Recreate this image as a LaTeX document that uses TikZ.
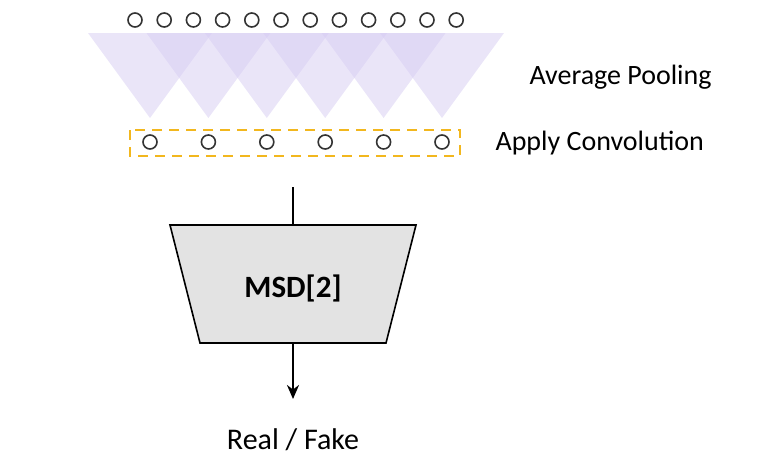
\documentclass[tikz,border=0pt]{standalone}
\usepackage{fontspec}
\setmainfont{Carlito}
\usetikzlibrary{positioning, arrows.meta}

\definecolor{poolviolet}{RGB}{214,204,242}
\definecolor{convgold}{RGB}{242,183,30}

\tikzset{
    pix/.style={circle, draw=black!80, line width=1.6pt, minimum size=14pt, inner sep=0pt},
    pool/.style={fill=poolviolet, fill opacity=0.5, draw=none},
    label/.style={font=\fontsize{28pt}{32pt}\selectfont, anchor=west},
    flow/.style={line width=2.8pt, -{Stealth[length=14pt, width=12pt]}}
}

\begin{document}
\begin{tikzpicture}[x=1pt, y=-1pt]
        \useasboundingbox (0,0) rectangle (770,463);

        % pooling windows
        \foreach \i in {0,...,5}
            \fill[pool] (88 + 58.4*\i, 33) -- (212 + 58.4*\i, 33) -- (150 + 58.4*\i, 118) -- cycle;

        % input samples
        \foreach \i in {0,...,11}
            \node[pix] (in\i) at (135 + 29.2*\i, 20) {};

        % pooled samples
        \foreach \i in {0,...,5}
            \node[pix] (out\i) at (150 + 58.4*\i, 142) {};

        \draw[dash pattern=on 10pt off 7pt, draw=convgold, line width=2.6pt] (130,130) rectangle (460,156);

        \node[label] (avg) at (526,77) {Average Pooling};
        \node[label] (conv) at (492,143) {Apply Convolution};

        % discriminator
        \draw[fill=black!11, line width=1.6pt] (170,225) -- (416,225) -- (386,343) -- (200,343) -- cycle;
        \node[font=\fontsize{31pt}{34pt}\selectfont\bfseries] (msd) at (293,288) {MSD[2]};
        \coordinate (msdtop) at (293,225);
        \coordinate (msdbot) at (293,343);
        \coordinate (feed) at (293,187);
        \node[font=\fontsize{30pt}{34pt}\selectfont] (out) at (293,440) {Real / Fake};

        \draw[line width=2.8pt] (feed) -- (msdtop);
        \draw[flow] (msdbot) -- (293,399);
\end{tikzpicture}
\end{document}
